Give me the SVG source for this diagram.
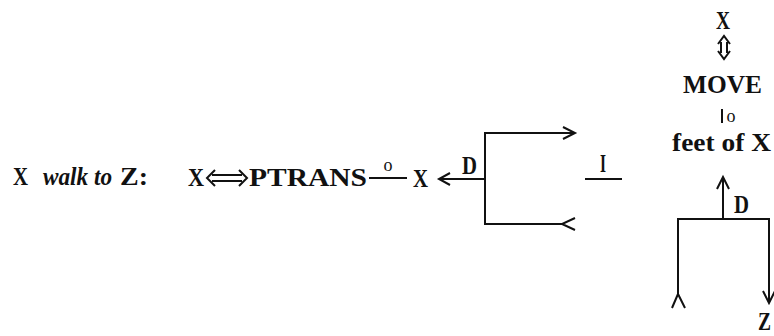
<svg xmlns="http://www.w3.org/2000/svg" width="774" height="336" viewBox="0 0 774 336">
<style>
text{font-family:"Liberation Serif","Times New Roman",serif;font-weight:bold;font-size:25px;fill:#111}
.it{font-style:italic}
.sm{font-size:18px;font-weight:normal}
.c path{fill:none;stroke:#111;stroke-width:2}
</style>
<rect width="774" height="336" fill="#fff"/>
<g id="title"><text x="13" y="185" textLength="15" lengthAdjust="spacingAndGlyphs">X</text><text class="it" x="43" y="185" textLength="69" lengthAdjust="spacingAndGlyphs">walk to</text><text x="120" y="185" textLength="28" lengthAdjust="spacingAndGlyphs">Z:</text></g>
<g id="actor"><text x="188" y="186" textLength="16" lengthAdjust="spacingAndGlyphs">X</text></g>
<g id="ptrans"><text x="249" y="186" textLength="118" lengthAdjust="spacingAndGlyphs">PTRANS</text></g>
<g id="obj-o"><text class="sm" x="388" y="171" text-anchor="middle">o</text></g>
<g id="object"><text x="413" y="187" textLength="15" lengthAdjust="spacingAndGlyphs">X</text></g>
<g id="d1"><text x="462" y="174" textLength="15" lengthAdjust="spacingAndGlyphs">D</text></g>
<g id="inst"><text x="600" y="172" textLength="6" lengthAdjust="spacingAndGlyphs">I</text></g>
<g id="x2"><text x="716" y="29" textLength="14" lengthAdjust="spacingAndGlyphs">X</text></g>
<g id="move"><text x="683" y="93" textLength="79" lengthAdjust="spacingAndGlyphs">MOVE</text></g>
<g id="obj-o2"><text class="sm" x="731" y="122" text-anchor="middle">o</text></g>
<g id="feet"><text x="672" y="151" textLength="99" lengthAdjust="spacingAndGlyphs">feet of X</text></g>
<g id="d2"><text x="734" y="213" textLength="15" lengthAdjust="spacingAndGlyphs">D</text></g>
<g id="z"><text x="758" y="330" textLength="13" lengthAdjust="spacingAndGlyphs">Z</text></g>
<g id="connectors" class="c">
<path d="M212,175 H242 M212,181 H242 M215,170 L207,178 L215,186 M239,170 L247,178 L239,186"/>
<path d="M369,178 H407"/>
<path d="M485,179 H439 M450,173 L439,179 L450,185"/>
<path d="M575,133 H485 V224 H562 M563,127 L575,133 L563,139 M575,218 L562,224 L575,230"/>
<path d="M585,179 H622"/>
<path d="M721,42 V53 M727,42 V53 M718,44 L724,36 L730,44 M718,51 L724,59 L730,51"/>
<path d="M722,109 V123"/>
<path d="M723,219 V178 M717,189 L723,177 L729,189"/>
<path d="M678,294 V219 H769 V302 M763,291 L769,303 L775,291 M672,308 L678,294 L685,308"/>
</g>
</svg>
